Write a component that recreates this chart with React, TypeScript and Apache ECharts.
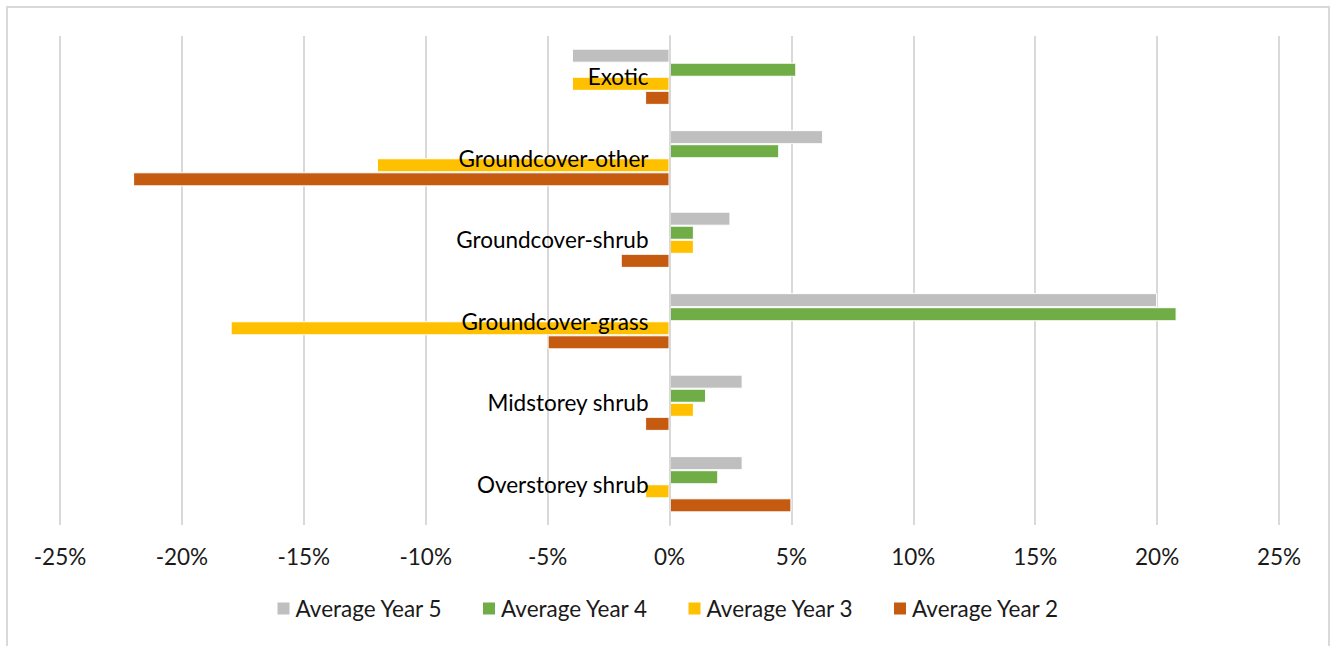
import React, { useEffect, useRef } from "react";
import * as echarts from "echarts";

const categories = [
  "Overstorey shrub",
  "Midstorey shrub",
  "Groundcover-grass",
  "Groundcover-shrub",
  "Groundcover-other",
  "Exotic",
];
const year2 = [5, -1, -5, -2, -22, -1];
const year3 = [-1, 1, -18, 1, -12, -4];
const year4 = [2, 1.5, 20.8, 1, 4.5, 5.2];
const year5 = [3, 3, 20, 2.5, 6.3, -4];
const seriesNames = ["Average Year 5", "Average Year 4", "Average Year 3", "Average Year 2"];
const colors = ["#BFBFBF", "#70AD47", "#FFC000", "#C55A11"];
const FONT = "Lato";

const GRID_LEFT = 60;
const GRID_RIGHT = 56;
const WIDTH = 1335;

export default function App() {
  const ref = useRef<HTMLDivElement>(null);
  useEffect(() => {
    const chart = echarts.init(ref.current!, null, { renderer: "svg" });
    const data = [year5, year4, year3, year2];
    const plotWidth = WIDTH - GRID_LEFT - GRID_RIGHT;
    chart.setOption({
      animation: false,
      backgroundColor: "#ffffff",
      textStyle: { fontFamily: FONT },
      graphic: [
        {
          type: "rect",
          shape: { x: 7, y: 7, width: 1322, height: 660 },
          style: { fill: "none", stroke: "#d9d9d9", lineWidth: 2 },
          silent: true,
        },
      ],
      grid: {
        left: GRID_LEFT,
        right: GRID_RIGHT,
        top: 36,
        bottom: 121,
        containLabel: false,
        outerBoundsMode: "none",
      },
      legend: {
        data: seriesNames,
        bottom: 21,
        left: "center",
        icon: "rect",
        itemWidth: 14,
        itemHeight: 14,
        itemGap: 38,
        textStyle: { fontSize: 22.5, color: "#1a1a1a", fontFamily: FONT },
      },
      xAxis: {
        type: "value",
        min: -25,
        max: 25,
        interval: 5,
        axisLine: { show: false },
        axisTick: { show: false },
        splitLine: { show: true, lineStyle: { color: "#d9d9d9", width: 2 } },
        axisLabel: {
          formatter: (v: number) => `${v}%`,
          fontSize: 22.5,
          color: "#1a1a1a",
          margin: 20,
          fontFamily: FONT,
        },
      },
      yAxis: {
        type: "category",
        data: categories,
        z: 10,
        offset: -plotWidth / 2,
        axisLine: { show: true, onZero: false, lineStyle: { color: "#d9d9d9", width: 2 } },
        axisTick: { show: false },
        axisLabel: { fontSize: 22.5, color: "#000000", margin: 21, fontFamily: FONT },
      },
      series: seriesNames.map((name, i) => ({
        name,
        type: "bar",
        data: data[i],
        barGap: "0%",
        barCategoryGap: "31%",
        itemStyle: { color: colors[i], borderColor: "#ffffff", borderWidth: 1 },
      })),
    });
    return () => chart.dispose();
  }, []);
  return (
    <div
      ref={ref}
      style={{ position: "fixed", left: 0, top: 0, width: WIDTH, height: 646 }}
    />
  );
}
